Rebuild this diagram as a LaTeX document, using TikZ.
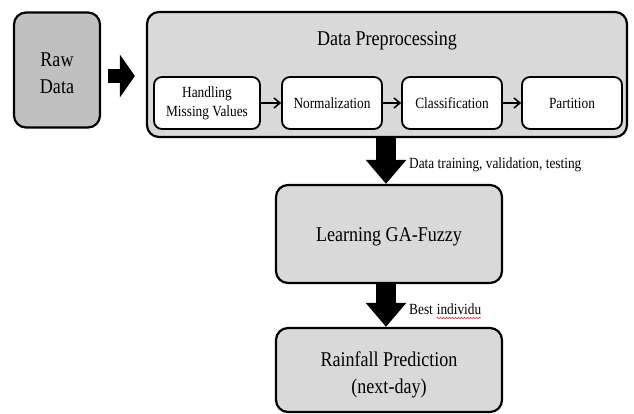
\documentclass[tikz,border=0pt]{standalone}
\usepackage{fontspec}
\setmainfont[FakeStretch=0.86]{Liberation Serif}
\usetikzlibrary{arrows.meta,decorations.pathmorphing,calc}
\definecolor{boxgrey}{HTML}{D9D9D9}
\definecolor{rawgrey}{HTML}{C0C0C0}
\definecolor{spellred}{HTML}{E03030}
\tikzset{
  stage/.style={draw, line width=2.2pt, rounded corners=12pt, fill=boxgrey,
    inner sep=0pt, align=center},
  stagetext/.style={inner sep=0pt, align=center, font=\fontsize{21}{27.5}\selectfont},
  substep/.style={draw, line width=1.8pt, rounded corners=8pt, fill=white,
    inner sep=0pt, align=center, minimum width=100pt, minimum height=52pt,
    font=\fontsize{15.5}{19}\selectfont},
  flow/.style={line width=1.5pt, -{Straight Barb[length=6pt,width=10pt]}},
  bigarrow/.style={line width=14pt, -{Triangle[length=15pt,width=42pt]}},
  downarrow/.style={line width=20pt, -{Triangle[length=24pt,width=39pt]}},
  note/.style={font=\fontsize{15.5}{18}\selectfont, inner sep=0pt},
  wavy/.style={draw=spellred, line width=0.6pt,
    decorate, decoration={snake, segment length=3pt, amplitude=0.8pt}},
}
\begin{document}
\begin{tikzpicture}[x=1pt, y=-1pt]
  \useasboundingbox (0,0) rectangle (634,414);

  % input
  \node[stage, fill=rawgrey, minimum width=86pt, minimum height=115pt] (raw) at (57,70) {};
  \node[stagetext] (rawtext) at (57,73) {Raw\\Data};

  % preprocessing block with its four steps
  \node[stage, minimum width=480pt, minimum height=125pt] (prep) at (387,74.5) {};
  \node[stagetext] (title) at (387,41) {Data Preprocessing};
  \node[substep, minimum width=106pt] (hmv) at (207,103) {Handling\\Missing Values};
  \node[substep] (norm) at (332,103) {Normalization};
  \node[substep] (cls) at (452,103) {Classification};
  \node[substep] (part) at (572,103) {Partition};

  \draw[flow] (hmv) -- (norm);
  \draw[flow] (norm) -- (cls);
  \draw[flow] (cls) -- (part);

  % learning and prediction stages
  \node[stage, minimum width=226pt, minimum height=98pt] (learn) at (389,234) {};
  \node[stagetext] (learntext) at (389,237) {Learning GA-Fuzzy};
  \node[stage, minimum width=226pt, minimum height=84pt] (rain) at (389,370) {};
  \node[stagetext] (raintext) at (389,375) {Rainfall Prediction\\(next-day)};

  % block arrows
  \draw[bigarrow] ([shift={(7,6)}]raw.east) -- ([shift={(-11,6)}]raw.east -| prep.west);
  \draw[downarrow] (prep.south -| 386,0) -- (learn.north -| 386,0);
  \draw[downarrow] (learn.south -| 386,0) -- (rain.north -| 386,0);

  % arrow labels
  \node[note, anchor=west] (lbltrain) at (409,165) {Data training, validation, testing};
  \node[note, anchor=base west] (lblbest) at (409,314) {Best};
  \node[note, anchor=base west] (lblind) at ([xshift=3.5pt]lblbest.base east) {individu};
  \path[wavy] ([yshift=-4pt]lblind.base west) -- ([yshift=-4pt]lblind.base east);
\end{tikzpicture}
\end{document}
